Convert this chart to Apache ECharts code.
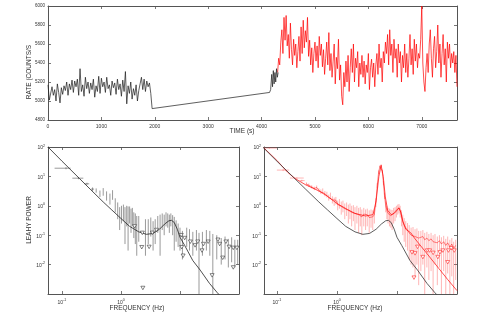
<!DOCTYPE html>
<html>
<head>
<meta charset="utf-8">
<script src="https://cdn.jsdelivr.net/npm/echarts@6/dist/echarts.min.js"></script>
<style>
  html, body { margin: 0; padding: 0; background: #fff; }
  #chart { width: 480px; height: 327px; }
</style>
</head>
<body>
<div id="chart"></div>
<script>
// ---- light curve (top panel) ----
const blackStart = 0, blackStep = 25;
const blackRate = [
  5170, 5010, 4990, 5150, 5060, 5120, 5000, 5180, 5090, 4980,
  5140, 5070, 5160, 5110, 5200, 5060, 5180, 5120, 5220, 5090,
  5210, 5150, 5230, 5060, 5340, 5100, 5170, 5050, 5250, 5130,
  5200, 5080, 5190, 5120, 5230, 5040, 5160, 5100, 5260, 5080,
  5240, 5150, 5200, 5090, 5250, 5130, 5170, 5060, 5210, 5140,
  5190, 5070, 5230, 5120, 5180, 5050, 5220, 5100, 5310, 4970,
  5160, 5080, 5200, 5020, 5130, 5060, 5170, 5000, 5110, 5180,
  5250, 5120, 5230, 5100, 5210, 5150, 5190, 5080, 4920
];
// data gap bridged by a straight line, then the rise before the red part
const tailTime = [4150, 4170, 4190, 4205, 4220, 4235, 4250, 4265, 4280, 4295, 4310];
const tailRate = [5090, 5120, 5280, 5150, 5320, 5180, 5300, 5200, 5340, 5250, 5300];

const redStart = 4300, redStep = 20;
const redRate = [
  5300, 5450, 5380, 5620, 5750, 5500, 5880, 5640, 5900, 5580,
  5700, 5450, 5820, 5540, 5380, 5650, 5480, 5600, 5350, 5520,
  5680, 5420, 5780, 5500, 5850, 5560, 5740, 5620, 5880, 5470,
  5640, 5380, 5560, 5300, 5500, 5620, 5420, 5580, 5350, 5680,
  5480, 5600, 5360, 5540, 5280, 5450, 5620, 5380, 5720, 5320,
  5500, 5250, 5420, 5600, 5180, 5460, 5340, 5650, 5220, 5380,
  5050, 4960, 5300, 5150, 5420, 5200, 5480, 5100, 5350, 5550,
  5300, 5600, 5200, 5450, 5350, 5520, 5150, 5400, 5280, 5480,
  5250, 5420, 5180, 5380, 5300, 5500, 5120, 5350, 5440, 5250,
  5400, 5150, 5380, 5500, 5280, 5600, 5350, 5450, 5200, 5520,
  5400, 5620, 5500, 5700, 5380, 5750, 5480, 5600, 5300, 5650,
  5450, 5550, 5250, 5600, 5400, 5520, 5200, 5480, 5350, 5600,
  5300, 5500, 5250, 5450, 5700, 5380, 5550, 5280, 5650, 5420,
  5600, 5350, 5500, 5450, 5650, 6000, 5400, 5200, 5100, 5350,
  5500, 5300, 5600, 5750, 5450, 5250, 5550, 5680, 5350, 5520,
  5800, 5400, 5600, 5250, 5500, 5700, 5380, 5550, 5200, 5620,
  5450, 5600, 5350, 5500, 5400, 5520, 5300, 5480, 5150
];

// ---- power spectra (bottom panels) ----
// model curve shared by both panels (black)
const modelBlack = [
  [0.058, 100], [0.1, 33], [0.2, 8.3], [0.3, 3.7], [0.5, 1.35], [0.7, 0.72],
  [1, 0.37], [1.4, 0.2], [2, 0.13], [2.7, 0.107], [3.5, 0.115], [4.5, 0.16],
  [5.5, 0.24], [6.5, 0.31], [7.2, 0.32], [8, 0.27], [9, 0.16], [10, 0.085],
  [12, 0.045], [16.5, 0.0137], [22, 0.0065], [31.6, 0.0023], [43, 0.0011], [50, 0.0008]
];
// left: [f, P, fLo, fHi, pLo, pHi]
const leftBins = [
  [0.117, 19, 0.075, 0.14, 17.5, 20.5],
  [0.19, 8.7, 0.15, 0.23, 8.0, 9.4],
  [0.265, 5.6, 0.24, 0.29, 5.1, 6.1],
  [0.33, 3.7, 0.31, 0.35, 3.2, 4.2]
];
// left: [f, P, pLo, pHi]
const leftPoints = [
  [0.38, 3.3, 2.8, 3.9], [0.44, 2.6, 2.0, 3.3], [0.5, 3.0, 2.2, 4.0], [0.57, 2.2, 1.5, 3.1],
  [0.65, 1.7, 1.1, 2.6], [0.72, 2.4, 1.6, 3.4], [0.8, 1.1, 0.6, 1.8], [0.88, 0.75, 0.35, 1.3],
  [0.95, 0.45, 0.15, 0.9], [1.02, 0.62, 0.25, 1.0], [1.1, 0.7, 0.3, 1.1], [1.17, 0.5, 0.05, 0.9],
  [1.25, 0.65, 0.2, 1.0], [1.32, 0.55, 0.03, 0.95], [1.4, 0.6, 0.25, 0.95], [1.48, 0.4, 0.12, 0.8],
  [1.56, 0.5, 0.2, 0.85], [1.65, 0.35, 0.08, 0.6], [1.75, 0.3, 0.05, 0.55], [1.85, 0.22, 0.02, 0.45],
  [2.0, 0.25, 0.06, 0.45], [2.6, 0.18, 0.02, 0.35], [2.9, 0.2, 0.05, 0.35], [3.2, 0.26, 0.09, 0.4],
  [3.5, 0.18, 0.03, 0.3], [3.8, 0.22, 0.05, 0.35], [4.2, 0.3, 0.12, 0.45], [4.6, 0.33, 0.02, 0.5],
  [5.0, 0.4, 0.15, 0.55], [5.4, 0.35, 0.1, 0.5], [5.8, 0.45, 0.2, 0.6], [6.2, 0.4, 0.18, 0.55],
  [6.6, 0.38, 0.12, 0.5], [7.0, 0.42, 0.2, 0.55], [7.5, 0.32, 0.1, 0.48], [8.0, 0.28, 0.03, 0.42],
  [8.6, 0.2, 0.06, 0.32], [9.3, 0.15, 0.04, 0.25], [10, 0.11, 0.03, 0.18], [11, 0.08, 0.015, 0.14],
  [13, 0.12, 0.04, 0.18], [14.5, 0.1, 0.03, 0.16], [16.5, 0.085, 0.02, 0.13], [19, 0.1, 0.03, 0.15],
  [21, 0.07, 0.001, 0.12], [24, 0.08, 0.02, 0.13], [28, 0.1, 0.03, 0.15], [32, 0.09, 0.02, 0.14],
  [36, 0.07, 0.001, 0.11], [42, 0.06, 0.015, 0.1], [50, 0.05, 0.01, 0.08], [58, 0.06, 0.015, 0.09],
  [66, 0.045, 0.008, 0.075], [75, 0.055, 0.012, 0.085], [85, 0.04, 0.008, 0.07], [95, 0.045, 0.01, 0.07]
];
const leftUpper = [
  [1.7, 0.2], [2.3, 0.12], [2.25, 0.039], [2.35, 0.0016], [3.0, 0.04], [3.4, 0.12], [4.0, 0.15],
  [10.5, 0.1], [10.7, 0.039], [11.3, 0.02], [12, 0.08], [15, 0.06], [18, 0.045], [20, 0.06],
  [23.6, 0.03], [25, 0.05], [30, 0.06], [35, 0.0043], [44, 0.07], [47, 0.05], [53, 0.017],
  [60, 0.06], [68, 0.04], [80, 0.037], [80, 0.008], [92, 0.037]
];

const modelRed = [
  [0.06, 95], [0.1, 35], [0.15, 14], [0.2, 8.5], [0.3, 5.2], [0.5, 3.2], [0.7, 2.1],
  [1, 1.2], [1.5, 0.75], [2, 0.55], [3, 0.45], [4, 0.5], [4.5, 1.5], [5, 10], [5.45, 24],
  [5.9, 10], [6.4, 2], [7, 0.7], [8, 0.5], [9, 0.55], [10, 0.7], [10.8, 0.85], [11.6, 0.6],
  [12.5, 0.3], [14, 0.16], [17, 0.12], [20, 0.075], [30, 0.027], [50, 0.0073], [70, 0.0031], [100, 0.0013]
];
const rightBins = [
  [0.075, 92, 0.06, 0.1, 88, 96],
  [0.127, 16.4, 0.1, 0.16, 15.2, 17.6],
  [0.215, 8.8, 0.165, 0.28, 8.3, 9.3],
  [0.26, 7.2, 0.24, 0.29, 6.7, 7.7]
];
const rightPoints = [
  [0.31, 5.6, 5.0, 6.3], [0.34, 5.0, 4.4, 5.7], [0.38, 4.4, 3.9, 5.0], [0.42, 3.9, 3.4, 4.5],
  [0.46, 4.2, 3.6, 4.9], [0.5, 3.4, 2.9, 4.0], [0.54, 3.0, 2.5, 3.6], [0.58, 3.3, 2.7, 3.9],
  [0.63, 2.6, 2.1, 3.2], [0.68, 2.4, 1.9, 3.0], [0.73, 1.9, 1.5, 2.4], [0.78, 2.2, 1.7, 2.8],
  [0.84, 1.6, 1.2, 2.1], [0.9, 1.4, 1.0, 1.9], [0.96, 1.55, 1.1, 2.0], [1.03, 1.1, 0.7, 1.5],
  [1.1, 1.25, 0.8, 1.7], [1.18, 0.95, 0.5, 1.4], [1.26, 1.05, 0.6, 1.5], [1.35, 0.8, 0.35, 1.2],
  [1.45, 0.9, 0.45, 1.3], [1.55, 0.7, 0.25, 1.1], [1.65, 0.78, 0.35, 1.2], [1.76, 0.6, 0.2, 1.0],
  [1.88, 0.68, 0.3, 1.05], [2.0, 0.55, 0.15, 0.9], [2.15, 0.62, 0.25, 1.0], [2.3, 0.5, 0.12, 0.85],
  [2.45, 0.56, 0.2, 0.9], [2.6, 0.42, 0.1, 0.75], [2.8, 0.52, 0.2, 0.85], [3.0, 0.45, 0.15, 0.75],
  [3.2, 0.5, 0.2, 0.8], [3.45, 0.4, 0.12, 0.7], [3.7, 0.46, 0.18, 0.75], [3.95, 0.42, 0.15, 0.7],
  [4.2, 0.5, 0.25, 0.8], [4.45, 1.3, 0.9, 1.8], [4.7, 5, 4, 6], [4.95, 14, 12, 16],
  [5.2, 22, 20, 24], [5.45, 24, 22, 26], [5.7, 15, 13, 17], [5.95, 6, 5, 7],
  [6.2, 2.2, 1.7, 2.8], [6.5, 1.0, 0.6, 1.4], [6.8, 0.7, 0.35, 1.0], [7.1, 0.55, 0.25, 0.85],
  [7.5, 0.5, 0.2, 0.8], [7.9, 0.46, 0.18, 0.75], [8.3, 0.45, 0.15, 0.72], [8.8, 0.55, 0.25, 0.85],
  [9.3, 0.6, 0.3, 0.9], [9.8, 0.72, 0.4, 1.0], [10.3, 0.8, 0.5, 1.1], [10.8, 0.85, 0.55, 1.15],
  [11.3, 0.7, 0.4, 1.0], [11.9, 0.45, 0.2, 0.7], [12.5, 0.3, 0.1, 0.5], [13.2, 0.22, 0.06, 0.38],
  [14, 0.18, 0.04, 0.3], [15, 0.15, 0.03, 0.26], [16, 0.12, 0.015, 0.22], [17.2, 0.1, 0.01, 0.18],
  [18.5, 0.11, 0.008, 0.19], [20, 0.09, 0.004, 0.16], [21.5, 0.1, 0.01, 0.17], [23, 0.08, 0.002, 0.14],
  [25, 0.085, 0.006, 0.14], [27, 0.09, 0.01, 0.15], [29, 0.07, 0.001, 0.12], [31.5, 0.08, 0.008, 0.13],
  [34, 0.065, 0.003, 0.11], [37, 0.075, 0.006, 0.12], [40, 0.06, 0.001, 0.1], [43, 0.07, 0.01, 0.11],
  [47, 0.055, 0.002, 0.09], [51, 0.065, 0.008, 0.1], [55, 0.05, 0.001, 0.085], [60, 0.06, 0.006, 0.095],
  [65, 0.045, 0.001, 0.075], [70, 0.055, 0.005, 0.09], [76, 0.04, 0.001, 0.07], [82, 0.05, 0.004, 0.08],
  [88, 0.035, 0.001, 0.06], [95, 0.045, 0.003, 0.07]
];
const rightUpper = [
  [17.8, 0.026], [19.2, 0.0036], [20, 0.024], [22, 0.04], [27, 0.018], [32, 0.03], [35, 0.03],
  [40, 0.025], [48, 0.018], [52, 0.026], [58, 0.03], [70, 0.012], [72, 0.03], [80, 0.036], [90, 0.03]
];

// tick labels
const timeTicks = [0, 1000, 2000, 3000, 4000, 5000, 6000, 7000];
const freqLabelExp = [-1, 0];
const powerLabelExp = [-2, -1, 0, 1, 2];

const FONT = '"Liberation Sans", Arial, sans-serif';
const AX = '#555';
const TXT = '#333';

const chart = echarts.init(document.getElementById('chart'), null, { renderer: 'canvas' });

function toExp(v) {
  const l = Math.log10(v), e = Math.round(l);
  return Math.abs(l - e) < 1e-6 ? e : null;
}
function powLabel(allowed) {
  return function (v) {
    const e = toExp(v);
    if (e === null || allowed.indexOf(e) < 0) return '';
    return '{b|10}{s|' + e + '}';
  };
}
const rich = {
  b: { fontSize: 5, color: TXT, fontFamily: FONT, lineHeight: 7, verticalAlign: 'bottom' },
  s: { fontSize: 3.6, color: TXT, fontFamily: FONT, lineHeight: 4, verticalAlign: 'top' }
};

function axis(extra, labels) {
  return Object.assign({
    axisLine: { show: true, onZero: false, lineStyle: { color: AX, width: 1 } },
    axisTick: { show: true, inside: true, length: 3, lineStyle: { color: AX, width: 0.8 } },
    splitLine: { show: false },
    axisLabel: labels === false ? { show: false } :
      Object.assign({ fontSize: 5, color: TXT, fontFamily: FONT, margin: 3, rich: rich }, labels || {})
  }, extra);
}

// error bars drawn through the axes
function errBars(color, width) {
  return function (params, api) {
    const f = api.value(0), p = api.value(1);
    const lo = api.coord([f, api.value(4)]), hi = api.coord([f, api.value(5)]);
    const l = api.coord([api.value(2), p]), r = api.coord([api.value(3), p]);
    const st = { stroke: color, lineWidth: width };
    const kids = [{ type: 'line', shape: { x1: lo[0], y1: lo[1], x2: hi[0], y2: hi[1] }, style: st }];
    if (r[0] - l[0] > 0.5) kids.push({ type: 'line', shape: { x1: l[0], y1: l[1], x2: r[0], y2: r[1] }, style: st });
    return { type: 'group', children: kids };
  };
}
const pointsToRows = pts => pts.map(d => [d[0], d[1], d[0], d[0], d[2], d[3]]);

const blackData = blackRate.map((r, i) => [blackStart + i * blackStep, r])
  .concat(tailTime.map((t, i) => [t, tailRate[i]]));
const redData = redRate.map((r, i) => [redStart + i * redStep, r]);

const lineSeries = (xi, yi, data, color, w, z) => ({
  type: 'line', xAxisIndex: xi, yAxisIndex: yi, data: data, showSymbol: false, symbol: 'none',
  lineStyle: { color: color, width: w }, z: z || 2, silent: true, animation: false
});
const triSeries = (xi, yi, data, color) => ({
  type: 'scatter', xAxisIndex: xi, yAxisIndex: yi, data: data, symbol: 'triangle',
  symbolRotate: 180, symbolSize: [4, 3.5], itemStyle: { color: '#fff', borderColor: color, borderWidth: 0.6, opacity: 1 },
  z: 5, silent: true, animation: false
});

const timeLabel = {
  formatter: v => (timeTicks.indexOf(v) >= 0 ? String(v) : ''), showMaxLabel: false, margin: 4
};

chart.setOption({
  animation: false,
  backgroundColor: '#fff',
  textStyle: { fontFamily: FONT },
  grid: [
    { left: 48, top: 6, width: 409, height: 114 },
    { left: 48, top: 147, width: 191, height: 147 },
    { left: 264, top: 147, width: 193, height: 147 }
  ],
  xAxis: [
    axis({ gridIndex: 0, type: 'value', min: 0, max: 7660, interval: 1000, position: 'bottom' }, timeLabel),
    axis({ gridIndex: 0, type: 'value', min: 0, max: 7660, interval: 1000, position: 'top' }, false),
    axis({ gridIndex: 1, type: 'log', logBase: 10, min: 0.058, max: 100, position: 'bottom' },
      { formatter: powLabel(freqLabelExp), margin: 4 }),
    axis({ gridIndex: 1, type: 'log', logBase: 10, min: 0.058, max: 100, position: 'top' }, false),
    axis({ gridIndex: 2, type: 'log', logBase: 10, min: 0.061, max: 100, position: 'bottom' },
      { formatter: powLabel(freqLabelExp), margin: 4 }),
    axis({ gridIndex: 2, type: 'log', logBase: 10, min: 0.061, max: 100, position: 'top' }, false)
  ],
  yAxis: [
    axis({ gridIndex: 0, type: 'value', min: 4800, max: 6000, interval: 200, position: 'left' },
      { formatter: v => String(v), fontSize: 4.5 }),
    axis({ gridIndex: 0, type: 'value', min: 4800, max: 6000, interval: 200, position: 'right' }, false),
    axis({ gridIndex: 1, type: 'log', logBase: 10, min: 0.001, max: 100, position: 'left' },
      { formatter: powLabel(powerLabelExp) }),
    axis({ gridIndex: 1, type: 'log', logBase: 10, min: 0.001, max: 100, position: 'right' }, false),
    axis({ gridIndex: 2, type: 'log', logBase: 10, min: 0.001, max: 100, position: 'left' },
      { formatter: powLabel(powerLabelExp) }),
    axis({ gridIndex: 2, type: 'log', logBase: 10, min: 0.001, max: 100, position: 'right' }, false)
  ],
  series: [
    lineSeries(0, 0, blackData, '#1a1a1a', 0.7, 3),
    lineSeries(0, 0, redData, '#ff0000', 0.7, 2),

    { type: 'custom', xAxisIndex: 2, yAxisIndex: 2, renderItem: errBars('#555', 0.6),
      data: leftBins.concat(pointsToRows(leftPoints)), encode: { x: 0, y: 1 }, clip: true, silent: true, z: 2 },
    lineSeries(2, 2, modelBlack, '#222', 0.8, 4),
    triSeries(2, 2, leftUpper, '#333'),

    { type: 'custom', xAxisIndex: 4, yAxisIndex: 4, renderItem: errBars('rgba(255,60,60,0.55)', 0.7),
      data: rightBins.concat(pointsToRows(rightPoints)), encode: { x: 0, y: 1 }, clip: true, silent: true, z: 2 },
    lineSeries(4, 4, rightPoints.map(d => [d[0], d[1]]), 'rgba(255,0,0,0.8)', 0.6, 3),
    lineSeries(4, 4, modelRed, '#ff0000', 0.7, 3),
    lineSeries(4, 4, modelBlack, '#333', 0.8, 4),
    triSeries(4, 4, rightUpper, '#ff2020')
  ],
  graphic: [
    { type: 'text', x: 29, y: 72, rotation: Math.PI / 2, silent: true,
      style: { text: 'RATE (COUNTS/S', fontSize: 6.5, fontFamily: FONT, fill: TXT, align: 'center', verticalAlign: 'middle' } },
    { type: 'text', x: 242, y: 131, silent: true,
      style: { text: 'TIME (s)', fontSize: 6.5, fontFamily: FONT, fill: TXT, align: 'center', verticalAlign: 'middle' } },
    { type: 'text', x: 29, y: 220, rotation: Math.PI / 2, silent: true,
      style: { text: 'LEAHY POWER', fontSize: 6.5, fontFamily: FONT, fill: TXT, align: 'center', verticalAlign: 'middle' } },
    { type: 'text', x: 137, y: 308, silent: true,
      style: { text: 'FREQUENCY (Hz)', fontSize: 6.5, fontFamily: FONT, fill: TXT, align: 'center', verticalAlign: 'middle' } },
    { type: 'text', x: 355, y: 308, silent: true,
      style: { text: 'FREQUENCY (Hz)', fontSize: 6.5, fontFamily: FONT, fill: TXT, align: 'center', verticalAlign: 'middle' } }
  ]
});
</script>
</body>
</html>
